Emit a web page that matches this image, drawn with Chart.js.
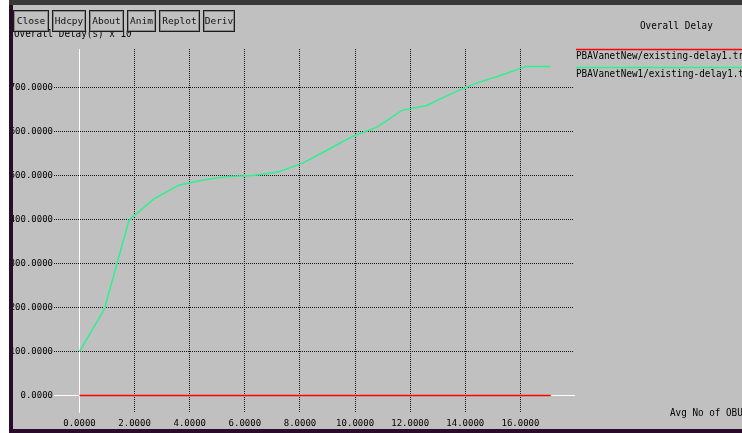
<!DOCTYPE html>
<html>
<head>
<meta charset="utf-8">
<script src="https://cdn.jsdelivr.net/npm/chart.js@4/dist/chart.umd.min.js"></script>
<style>
  html, body { margin: 0; padding: 0; background: #fff; }
  #win { position: absolute; left: 0; top: 0; width: 742px; height: 433px; background: #c0c0c0; overflow: hidden;
         font-family: "DejaVu Sans Mono", "Liberation Mono", monospace; font-size: 10px; color: #000; }
  #plot { position: absolute; left: 0; top: 0; }
  .txt { position: absolute; white-space: nowrap; line-height: 10px; height: 10px; transform: scaleX(0.93); transform-origin: 0 0; }
  .btn { position: absolute; top: 10px; height: 22px; box-sizing: border-box; border: 1px solid #1c1c1c;
         box-shadow: inset 0 0 0 1px #8a8a8a; background: #c0c0c0; text-align: center; line-height: 20px;
         font-size: 9.5px; color: #111; }
  .frame { position: absolute; }
</style>
</head>
<body>
<div id="win">
  <canvas id="plot" width="742" height="433"></canvas>
  <div class="txt" style="left:14px;top:29px;">Overall Delay(s) x 10^</div>
  <div class="btn" style="left:13px;width:36px;">Close</div>
  <div class="btn" style="left:52px;width:34px;">Hdcpy</div>
  <div class="btn" style="left:89px;width:35px;">About</div>
  <div class="btn" style="left:127px;width:29px;">Anim</div>
  <div class="btn" style="left:159px;width:41px;">Replot</div>
  <div class="btn" style="left:203px;width:32px;">Deriv</div>
  <div class="txt" style="left:640px;top:21px;">Overall Delay</div>
  <div class="txt" style="left:670px;top:408px;">Avg No of OBU</div>
  <div class="frame" style="left:0;top:0;width:9px;height:433px;background:#fff;"></div>
  <div class="frame" style="left:9px;top:0;width:4px;height:433px;background:#2a0c2a;"></div>
  <div class="frame" style="left:9px;top:0;width:733px;height:5px;background:#383838;"></div>
  <div class="frame" style="left:9px;top:429px;width:733px;height:4px;background:#2a0c2a;"></div>
</div>
<script>
// Average number of OBUs on the x axis
const xValues = [0, 0.9, 1.8, 2.7, 3.6, 4.5, 5.4, 6.3, 7.2, 8.1, 9.0, 9.9, 10.8, 11.7, 12.6, 13.5, 14.4, 15.3, 16.2, 17.1];
// Overall delay per trace file
const existingDelay = [0, 0, 0, 0, 0, 0, 0, 0, 0, 0, 0, 0, 0, 0, 0, 0, 0, 0, 0, 0];
const existingDelayNew1 = [100, 196, 399, 447, 478, 490, 498, 500, 508, 528, 558, 589, 610, 648, 659, 686, 710, 728, 748, 748];
const seriesLabels = ['PBAVanetNew/existing-delay1.tr', 'PBAVanetNew1/existing-delay1.tr'];
const seriesColors = ['#ff0000', '#2ef08e'];
const seriesWidths = [1.3, 1.5];
const xTickValues = [0, 2, 4, 6, 8, 10, 12, 14, 16];
const yTickValues = [0, 100, 200, 300, 400, 500, 600, 700];

const FONT = { family: 'DejaVu Sans Mono', size: 9 };
const gridColor = c => (c.tick && c.tick.value === 0) ? 'rgba(0,0,0,0)' : '#141414';

// white zero axes under the data, legend entries at the upper right
const overlay = {
  id: 'overlay',
  beforeDatasetsDraw(chart) {
    const { ctx, chartArea: a, scales: { x, y } } = chart;
    const x0 = Math.round(x.getPixelForValue(0) - 0.5) + 0.5;
    const y0 = Math.round(y.getPixelForValue(0) - 0.5) + 0.5;
    ctx.save();
    ctx.strokeStyle = '#ffffff';
    ctx.lineWidth = 1;
    ctx.beginPath();
    ctx.moveTo(x0, a.top); ctx.lineTo(x0, a.bottom);
    ctx.moveTo(a.left, y0); ctx.lineTo(a.right + 2, y0);
    ctx.stroke();
    ctx.restore();
  },
  afterDraw(chart) {
    const { ctx } = chart;
    chart.data.datasets.forEach((ds, i) => {
      const ly = 49.5 + i * 18;
      ctx.save();
      ctx.strokeStyle = ds.borderColor;
      ctx.lineWidth = 1.3;
      ctx.beginPath(); ctx.moveTo(576, ly); ctx.lineTo(742, ly); ctx.stroke();
      ctx.translate(576, ly + 7);
      ctx.scale(0.93, 1);
      ctx.font = '10px "' + FONT.family + '"';
      ctx.textBaseline = 'middle';
      ctx.textAlign = 'left';
      ctx.fillStyle = '#000';
      ctx.fillText(ds.label, 0, 0);
      ctx.restore();
    });
  }
};

const makeData = ys => xValues.map((x, i) => ({ x: x, y: ys[i] }));

new Chart(document.getElementById('plot'), {
  type: 'scatter',
  data: {
    datasets: seriesLabels.map((label, i) => ({
      label: label,
      data: makeData([existingDelay, existingDelayNew1][i]),
      showLine: true,
      borderColor: seriesColors[i],
      backgroundColor: seriesColors[i],
      borderWidth: seriesWidths[i],
      pointRadius: 0,
      tension: 0
    }))
  },
  options: {
    responsive: false,
    animation: false,
    devicePixelRatio: 1,
    layout: { padding: { left: 0, top: 49, right: 169, bottom: 0 } },
    plugins: { legend: { display: false }, tooltip: { enabled: false } },
    scales: {
      x: {
        type: 'linear', min: -0.925, max: 17.907,
        afterBuildTicks: s => { s.ticks = xTickValues.map(v => ({ value: v })); },
        afterFit: s => { s.height = 20; },
        grid: { color: gridColor, lineWidth: 1, drawTicks: false },
        border: { display: false, dash: [1, 1] },
        ticks: { autoSkip: false, maxRotation: 0, padding: 5, color: '#000', font: FONT,
                 callback: v => Number(v).toFixed(4) }
      },
      y: {
        type: 'linear', min: -39.77, max: 787.5,
        afterBuildTicks: s => { s.ticks = yTickValues.map(v => ({ value: v })); },
        afterFit: s => { s.width = 54; },
        grid: { color: gridColor, lineWidth: 1, drawTicks: false },
        border: { display: false, dash: [1, 1] },
        ticks: { padding: 1, color: '#000', font: FONT,
                 callback: v => Number(v).toFixed(4) }
      }
    }
  },
  plugins: [overlay]
});
</script>
</body>
</html>
